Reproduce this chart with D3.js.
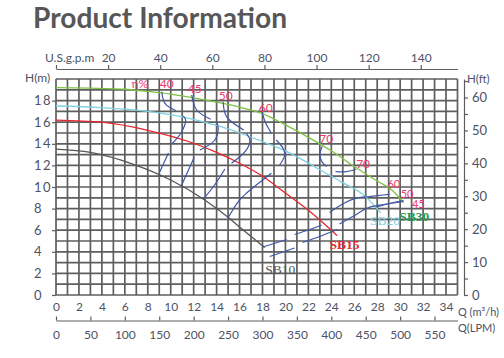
<!DOCTYPE html>
<html><head><meta charset="utf-8">
<script src="https://cdn.jsdelivr.net/npm/d3@7/dist/d3.min.js"></script>
<style>body{margin:0;background:#fff}svg{display:block}</style>
</head><body><svg id="c" width="504" height="358"></svg>
<script>
// ---------- data ----------
const titleText = "Product Information";
const pumpNames = ["SB10", "SB15", "SB20", "SB30"];
// Q (m3/h), H (m)
const sb10 = [[0,13.5],[3,13.2],[6.75,12.1],[10,10.65],[12.9,8.85],[15,7.2],[16,6.3],[18.2,4.4]];
const sb15 = [[0,16.2],[4,16.0],[8,15.25],[12,14.05],[14,13.2],[16,12.2],[18,11.0],[20,9.45],[22,7.85],[24,6.0],[24.5,5.5]];
const sb20 = [[0,17.5],[4,17.35],[8,17.0],[11,16.5],[14,15.7],[16,15.0],[18,14.2],[20,13.35],[23,11.6],[25,10.4],[27,9.1],[28.3,7.6]];
const sb30 = [[0,19.2],[3,19.15],[6,19.05],[8,18.85],[10,18.6],[12,18.25],[14,17.85],[16,17.4],[18,16.8],[20,15.75],[22,14.6],[24,13.35],[26,11.9],[28,10.55],[29.3,9.7],[30.3,8.55]];
const pumpSeries = [sb10, sb15, sb20, sb30];
// iso-efficiency segments
const isoSegments = [
  [[9.22,18.82],[9.5,17.75],[10.46,17.06]],
  [[11.1,16.57],[11.3,16.2],[10.96,15.12],[10.09,13.98]],
  [[9.8,13.15],[9.0,11.3]],
  [[11.83,18.52],[12.26,17.13],[13.48,16.27]],
  [[14.0,16.05],[14.14,15.43],[13.85,14.35],[12.55,13.43]],
  [[12.05,12.75],[10.9,10.05]],
  [[14.57,17.9],[14.87,16.51],[16.37,15.28]],
  [[16.6,14.97],[16.9,14.35],[16.6,13.43],[15.3,12.19]],
  [[14.72,11.67],[13.9,10.3],[12.83,8.85]],
  [[17.95,16.95],[18.25,16.0],[18.78,14.97]],
  [[19.2,14.35],[19.79,13.58],[19.94,12.96],[19.5,12.04]],
  [[15.0,7.15],[15.96,8.73],[16.6,9.42],[18.78,11.27]],
  [[23.2,13.75],[23.0,13.0],[23.2,12.3],[23.6,11.9]],
  [[24.37,11.42],[25.3,11.42],[26.17,11.64]],
  [[23.85,7.64],[25.15,8.52],[26.1,8.94],[27.33,9.12],[29.07,9.31]],
  [[24.72,6.57],[26.02,7.36],[27.16,8.06],[28.55,8.38],[30.29,8.66]],
  [[20.8,5.6],[22.11,6.06],[23.15,6.48]],
  [[21.5,4.86],[22.98,5.42],[24.55,6.06]],
  [[18.03,4.44],[20.11,5.14]],
  [[18.63,3.56],[20.8,4.35]],
  [[27.94,8.15],[29.24,8.52],[30.29,8.75]]
];
const effLabels = ["η%","40","45","50","60","70","70","60","50","45"];
const effLabelQ = [7.3,9.65,12.1,14.8,18.29,23.55,26.77,29.45,30.6,31.6];
const effLabelH = [19.54,19.54,19.07,18.43,17.36,14.44,12.13,10.25,9.3,8.4];
const pumpLabelQ = [19.55,25.16,28.68,31.24];
const pumpLabelH = [2.41,4.72,6.94,7.3];
// axes
const qTicks = [0,2,4,6,8,10,12,14,16,18,20,22,24,26,28,30,32,34];
const hTicks = [0,2,4,6,8,10,12,14,16,18];
const ftTicks = [0,5,10,15,20,25,30,35,40,45,50,55,60,65];
const ftLabels = [0,10,20,30,40,50,60];
const gpmTicks = [0,20,40,60,80,100,120,140];
const lpmTicks = [0,50,100,150,200,250,300,350,400,450,500,550];
const gpmPerM3h = 4.403, lpmPerM3h = 16.667, ftPerM = 3.281;

// ---------- styles ----------
const pumpColors = ["#555555","#e8262c","#7fd1e3","#7dc243"];
const pumpLabelColors = ["#555555","#e8262c","#7fd1e3","#1f9e55"];
const pumpLabelWeights = ["normal","bold","normal","bold"];
const effColor = "#ea3a6c", isoColor = "#3d56a6", gridColor = "#5e5e5e", axisTextColor = "#4d5266";

const svg = d3.select("#c");
const x = d3.scaleLinear().domain([0,35]).range([56,457.5]);
const y = d3.scaleLinear().domain([0,20]).range([295,79]);
const font = "Lato, 'Open Sans', sans-serif";

// title
svg.append("text").attr("x",33).attr("y",27.5).text(titleText)
  .attr("font-family",font).attr("font-weight","bold").attr("font-size",28)
  .attr("fill","#575757").attr("textLength",254).attr("lengthAdjust","spacingAndGlyphs");

// grid
const g = svg.append("g");
g.selectAll("line.v").data(d3.range(0,36)).join("line")
  .attr("x1",d=>x(d)).attr("x2",d=>x(d)).attr("y1",y(20)).attr("y2",y(0))
  .attr("stroke",gridColor).attr("stroke-width",1.7);
g.selectAll("line.h").data(d3.range(0,21)).join("line")
  .attr("y1",d=>y(d)).attr("y2",d=>y(d)).attr("x1",x(0)).attr("x2",x(35))
  .attr("stroke",gridColor).attr("stroke-width",1.7);

// left axis
const left = svg.append("g").attr("transform",`translate(${x(0)},0)`)
  .call(d3.axisLeft(y).tickValues(hTicks).tickSize(4).tickSizeOuter(0).tickFormat(d3.format("d")));
left.select(".domain").remove();
left.selectAll("line").attr("stroke",gridColor).attr("stroke-width",1.2);
left.selectAll("text").attr("text-anchor","start").attr("x",-22)
  .attr("font-family",font).attr("font-size",13).attr("letter-spacing",1.5).attr("fill",axisTextColor);
svg.append("text").attr("x",25).attr("y",82).text("H(m)")
  .attr("font-family",font).attr("font-size",12).attr("fill",axisTextColor);

// bottom m3/h labels
const bottom = svg.append("g").attr("transform",`translate(0,${y(0)})`)
  .call(d3.axisBottom(x).tickValues(qTicks).tickSize(0).tickPadding(7).tickFormat(d3.format("d")));
bottom.select(".domain").remove();
bottom.selectAll("text").attr("font-family",font).attr("font-size",12).attr("fill",axisTextColor);
svg.append("text").attr("x",458).attr("y",316).text("Q (m³/h)")
  .attr("font-family",font).attr("font-size",11).attr("fill",axisTextColor);

// LPM axis
const lpm = d3.scaleLinear().domain([0,35*lpmPerM3h]).range([56,457.5]);
const lpmAx = svg.append("g").attr("transform","translate(0,320.5)")
  .call(d3.axisBottom(lpm).tickValues(lpmTicks).tickSizeInner(-4).tickSizeOuter(0).tickPadding(10));
lpmAx.select(".domain").attr("stroke",gridColor).attr("stroke-width",1.2);
lpmAx.selectAll("line").attr("stroke",gridColor).attr("stroke-width",1.2);
lpmAx.selectAll("text").attr("font-family",font).attr("font-size",12).attr("fill",axisTextColor);
svg.append("text").attr("x",458).attr("y",332).text("Q(LPM)")
  .attr("font-family",font).attr("font-size",11).attr("fill",axisTextColor);

// top gpm axis
const gpm = d3.scaleLinear().domain([0,35*gpmPerM3h]).range([56,457.5]);
const topAx = svg.append("g").attr("transform","translate(0,69)")
  .call(d3.axisTop(gpm).tickValues(gpmTicks).tickSize(4).tickSizeOuter(0).tickPadding(3)
    .tickFormat(d=>d===0?"":d));
topAx.select(".domain").attr("stroke",gridColor).attr("stroke-width",1.2);
topAx.selectAll("line").attr("stroke",gridColor).attr("stroke-width",1.2);
topAx.selectAll("text").attr("font-family",font).attr("font-size",12).attr("fill",axisTextColor);
svg.append("text").attr("x",45).attr("y",62).text("U.S.g.p.m")
  .attr("font-family",font).attr("font-size",12).attr("fill",axisTextColor);

// right ft axis
const ft = d3.scaleLinear().domain([0,20*ftPerM]).range([295,79]);
const rightAx = svg.append("g").attr("transform","translate(464,0)")
  .call(d3.axisRight(ft).tickValues(ftTicks).tickSize(4).tickSizeOuter(0).tickPadding(4)
    .tickFormat(d=>ftLabels.includes(d)?d:""));
rightAx.select(".domain").attr("stroke",gridColor).attr("stroke-width",1.2);
rightAx.selectAll("line").attr("stroke",gridColor).attr("stroke-width",1.2);
rightAx.selectAll("text").attr("font-family",font).attr("font-size",13).attr("fill",axisTextColor);
svg.append("text").attr("x",467).attr("y",83).text("H(ft)")
  .attr("font-family",font).attr("font-size",11.5).attr("fill",axisTextColor);

// pump curves
const line = d3.line().x(d=>x(d[0])).y(d=>y(d[1])).curve(d3.curveMonotoneX);
svg.selectAll("path.pump").data(pumpSeries).join("path").attr("class","pump")
  .attr("d",line).attr("fill","none").attr("stroke",(d,i)=>pumpColors[i]).attr("stroke-width",1.3);

// iso-efficiency lines
const isoLine = d3.line().x(d=>x(d[0])).y(d=>y(d[1])).curve(d3.curveCatmullRom.alpha(0.5));
svg.selectAll("path.iso").data(isoSegments).join("path").attr("class","iso")
  .attr("d",isoLine).attr("fill","none").attr("stroke",isoColor).attr("stroke-width",1.2);

// efficiency labels
svg.selectAll("text.eff").data(effLabels).join("text").attr("class","eff")
  .attr("x",(d,i)=>x(effLabelQ[i])).attr("y",(d,i)=>y(effLabelH[i]))
  .attr("dy","0.35em").attr("text-anchor","middle").text(d=>d)
  .attr("font-family",font).attr("font-size",(d,i)=>i>=7?11:12).attr("fill",effColor);

// pump labels
svg.selectAll("text.pl").data(pumpNames).join("text").attr("class","pl")
  .attr("x",(d,i)=>x(pumpLabelQ[i])).attr("y",(d,i)=>y(pumpLabelH[i]))
  .attr("dy","0.35em").attr("text-anchor","middle").text(d=>d)
  .attr("font-family","'Liberation Serif', serif").attr("font-size",13.5)
  .attr("font-weight",(d,i)=>pumpLabelWeights[i]).attr("fill",(d,i)=>pumpLabelColors[i]);
</script></body></html>
